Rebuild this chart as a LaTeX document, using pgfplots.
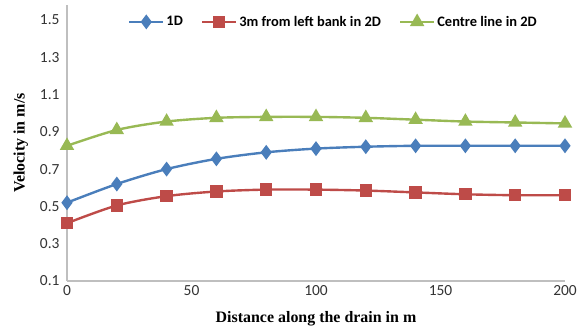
\documentclass[border=0pt]{standalone}
\usepackage{pgfplots}
\pgfplotsset{compat=1.18}
\usepackage{fontspec}
\setmainfont{Liberation Serif}
\newfontfamily\calib{Carlito}
\definecolor{cblue}{HTML}{4A7EBB}
\definecolor{cred}{HTML}{BE4B48}
\definecolor{cgreen}{HTML}{98B954}
\definecolor{axgray}{HTML}{BFBFBF}
\begin{document}
\begin{tikzpicture}
\useasboundingbox (-67bp,-55bp) rectangle (518bp,281bp);
\begin{axis}[
  at={(0,0)}, anchor=south west,
  scale only axis, width=498bp, height=276bp,
  xmin=0, xmax=200, ymin=0.1, ymax=1.58,
  xtick={0,50,100,150,200},
  ytick={0.1,0.3,0.5,0.7,0.9,1.1,1.3,1.5},
  yticklabel style={/pgf/number format/fixed, /pgf/number format/precision=1, /pgf/number format/fixed zerofill},
  /pgf/number format/assume math mode=true,
  ticklabel style={font=\calib\fontsize{15.5}{17}\selectfont, text=black!80},
  xticklabel style={yshift=-1bp},
  yticklabel style={xshift=-4bp},
  axis x line*=bottom, axis y line*=left,
  axis line style={axgray, line width=1.2pt},
  x axis line style={-}, y axis line style={-},
  major tick length=0pt,
  xlabel={\textbf{Distance along the drain in m}},
  ylabel={\textbf{Velocity in m/s}},
  label style={font=\fontsize{16}{18}\selectfont},
  xlabel style={yshift=-9bp},
  ylabel style={yshift=5bp},
  legend style={at={(0.535,0.975)}, anchor=north, draw=none, fill=none,
    font=\calib\bfseries\fontsize{14.5}{16}\selectfont, legend columns=-1,
    /tikz/every even column/.append style={column sep=16bp}},
  legend image code/.code={\draw[#1, mark repeat=2, mark phase=2] plot coordinates {(0cm,0cm) (0.6cm,0cm) (1.2cm,0cm)};},
  every axis plot/.append style={line width=2.4pt, smooth},
]
\addplot[cblue, mark=diamond*, mark size=5.5bp, mark options={solid, fill=cblue}] coordinates {
(0,0.52) (20,0.62) (40,0.70) (60,0.755) (80,0.79) (100,0.81) (120,0.82) (140,0.825) (160,0.825) (180,0.825) (200,0.825)};
\addlegendentry{1D}
\addplot[cred, mark=square*, mark size=5bp, mark options={solid, fill=cred}] coordinates {
(0,0.41) (20,0.505) (40,0.555) (60,0.58) (80,0.59) (100,0.59) (120,0.585) (140,0.575) (160,0.565) (180,0.56) (200,0.56)};
\addlegendentry{3m from left bank in 2D}
\addplot[cgreen, mark=triangle*, mark size=6bp, mark options={solid, fill=cgreen}] coordinates {
(0,0.825) (20,0.91) (40,0.955) (60,0.975) (80,0.98) (100,0.98) (120,0.975) (140,0.965) (160,0.955) (180,0.95) (200,0.945)};
\addlegendentry{Centre line in 2D}
\end{axis}
\end{tikzpicture}
\end{document}
